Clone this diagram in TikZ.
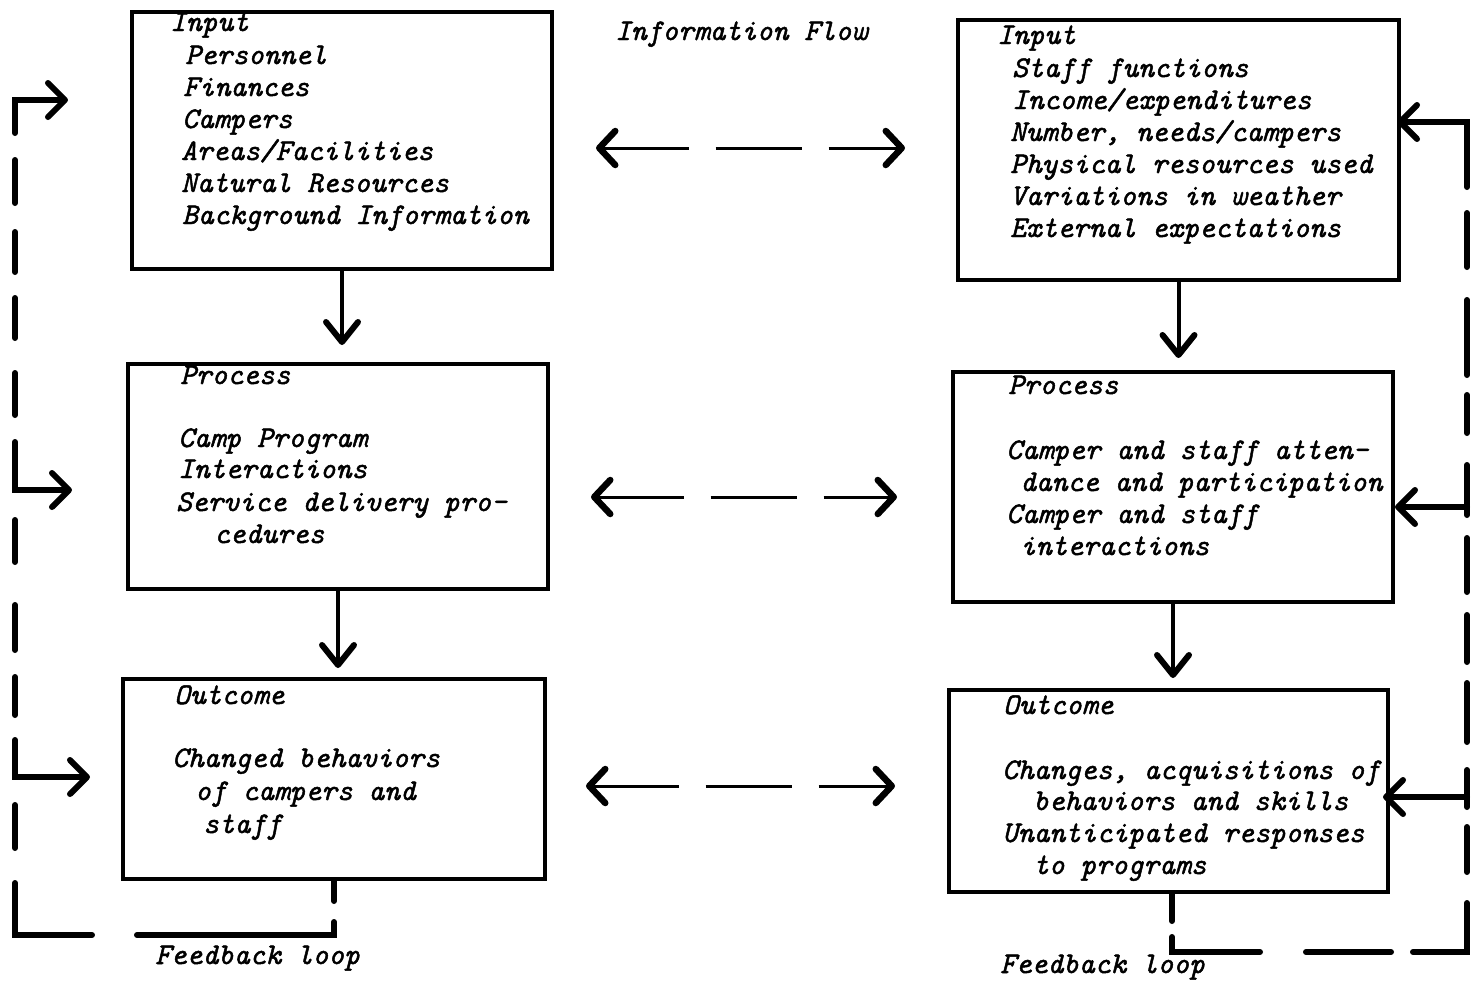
\documentclass[tikz,border=0pt]{standalone}
\usepackage{fontspec}
\usetikzlibrary{arrows.meta}
\newfontfamily\typewr{lmmono10-italic.otf}[FakeBold=1.6]
\newcommand{\txtline}[4]{\node[txt] (#1) at (#2,#3) {#4};}
\begin{document}
\begin{tikzpicture}[x=1pt,y=-1pt,
  box/.style={draw, line width=4pt, rectangle, inner sep=0pt, anchor=north west},
  txt/.style={anchor=base west, inner sep=0pt, font=\fontsize{30}{32}\selectfont\typewr},
  down/.style={line width=4pt, -{Straight Barb[length=20pt,width=32pt,line width=6pt,round]}},
  flow/.style={line width=3pt, dash pattern=on 86pt off 27pt,
    {Straight Barb[length=16pt,width=34pt,line width=6.5pt,round]}-{Straight Barb[length=16pt,width=34pt,line width=6.5pt,round]}},
  fb/.style={line width=6pt, line cap=round, line join=miter},
  fbarrow/.style={fb, -{Straight Barb[length=17pt,width=34pt,line width=6pt,round]}}]
\useasboundingbox (0,0) rectangle (1483,980);

% boxes
\node[box,minimum width=420pt,minimum height=257pt] (L1) at (130,10) {};
\node[box,minimum width=420pt,minimum height=225pt] (L2) at (126,362) {};
\node[box,minimum width=422pt,minimum height=200pt] (L3) at (121,677) {};
\node[box,minimum width=441pt,minimum height=260pt] (R1) at (956,18) {};
\node[box,minimum width=440pt,minimum height=230pt] (R2) at (951,370) {};
\node[box,minimum width=439pt,minimum height=202pt] (R3) at (947,688) {};

% texts
\txtline{l1a}{170}{31}{Input}
\txtline{l1b}{185}{64}{Personnel}
\txtline{l1c}{183}{96}{Finances}
\txtline{l1d}{182}{128}{Campers}
\txtline{l1e}{181}{160}{Areas/Facilities}
\txtline{l1f}{181}{192}{Natural Resources}
\txtline{l1g}{182}{224}{Background Information}

\txtline{l2a}{180}{384}{Process}
\txtline{l2b}{178}{447}{Camp Program}
\txtline{l2c}{178}{478}{Interactions}
\txtline{l2d}{176}{511}{Service delivery pro-}
\txtline{l2e}{214}{543}{cedures}

\txtline{l3a}{174}{704}{Outcome}
\txtline{l3b}{172}{767}{Changed behaviors}
\txtline{l3c}{195}{800}{of campers and}
\txtline{l3d}{203}{833}{staff}

\txtline{r1a}{997}{44}{Input}
\txtline{r1b}{1012}{77}{Staff functions}
\txtline{r1c}{1012}{109}{Income/expenditures}
\txtline{r1d}{1010}{141}{Number, needs/campers}
\txtline{r1e}{1010}{173}{Physical resources used}
\txtline{r1f}{1010}{205}{Variations in weather}
\txtline{r1g}{1010}{237}{External expectations}

\txtline{r2a}{1008}{394}{Process}
\txtline{r2b}{1006}{459}{Camper and staff atten-}
\txtline{r2c}{1020}{491}{dance and participation}
\txtline{r2d}{1006}{523}{Camper and staff}
\txtline{r2e}{1020}{555}{interactions}

\txtline{r3a}{1003}{714}{Outcome}
\txtline{r3b}{1002}{779}{Changes, acquisitions of}
\txtline{r3c}{1033}{810}{behaviors and skills}
\txtline{r3d}{1002}{842}{Unanticipated responses}
\txtline{r3e}{1033}{874}{to programs}

\txtline{title}{615}{40}{Information Flow}
\txtline{fbl}{155}{964}{Feedback loop}
\txtline{fbr}{1000}{973}{Feedback loop}

% down arrows
\draw[down,shorten >=17pt] (L1.south) -- (L1.south |- L2.north);
\draw[down,shorten >=9pt] (L2.south) -- (L2.south |- L3.north);
\draw[down,shorten >=12pt] (R1.south) -- (R1.south |- R2.north);
\draw[down,shorten >=10pt] (R2.south) -- (R2.south |- R3.north);

% information flow arrows
\coordinate (f1) at (0,148);
\coordinate (f2) at (0,497);
\coordinate (f3) at (0,786);
\draw[flow,shorten <=42pt,shorten >=51pt] (L1.east |- f1) -- (R1.west |- f1);
\draw[flow,shorten <=41pt,shorten >=54pt] (L2.east |- f2) -- (R2.west |- f2);
\draw[flow,shorten <=39pt,shorten >=52pt] (L3.east |- f3) -- (R3.west |- f3);

% left feedback loop
\draw[fb] (L3.south) -- ++(0,20);
\draw[fb] (L3.south) ++(0,41) -- (L3.south |- 0,935) -- (137,935);
\draw[fb] (92,935) -- (15,935) -- (15,883);
\foreach \a/\b in {848/805,715/677,650/605,562/520,415/373,338/298,272/232,203/160}
  \draw[fb] (15,\a) -- (15,\b);
\draw[fbarrow,shorten >=31pt] (15,740) -- (15,777) -- (L3.west |- 0,777);
\draw[fbarrow,shorten >=54pt] (15,442) -- (15,490) -- (L2.west |- 0,490);
\draw[fbarrow,shorten >=62pt] (15,133) -- (15,100) -- (L1.west |- 0,100);

% right feedback loop
\draw[fb] (R3.south -| 1172,0) -- ++(0,27);
\draw[fb] (1172,937) -- (1172,952) -- (1260,952);
\draw[fb] (1306,952) -- (1391,952);
\draw[fb] (1413,952) -- (1467,952) -- (1467,903);
\foreach \a/\b in {872/827,742/683,662/615,592/538,433/395,375/300,267/213}
  \draw[fb] (1467,\a) -- (1467,\b);
\draw[fb] (1467,807) -- (1467,770);
\draw[fbarrow,shorten >=-7pt] (1467,797) -- (R3.east |- 0,797);
\draw[fb] (1467,515) -- (1467,465);
\draw[fbarrow] (1467,507) -- (R2.east |- 0,507);
\draw[fbarrow,shorten >=-4pt] (1467,187) -- (1467,122) -- (R1.east |- 0,122);
\end{tikzpicture}
\end{document}
